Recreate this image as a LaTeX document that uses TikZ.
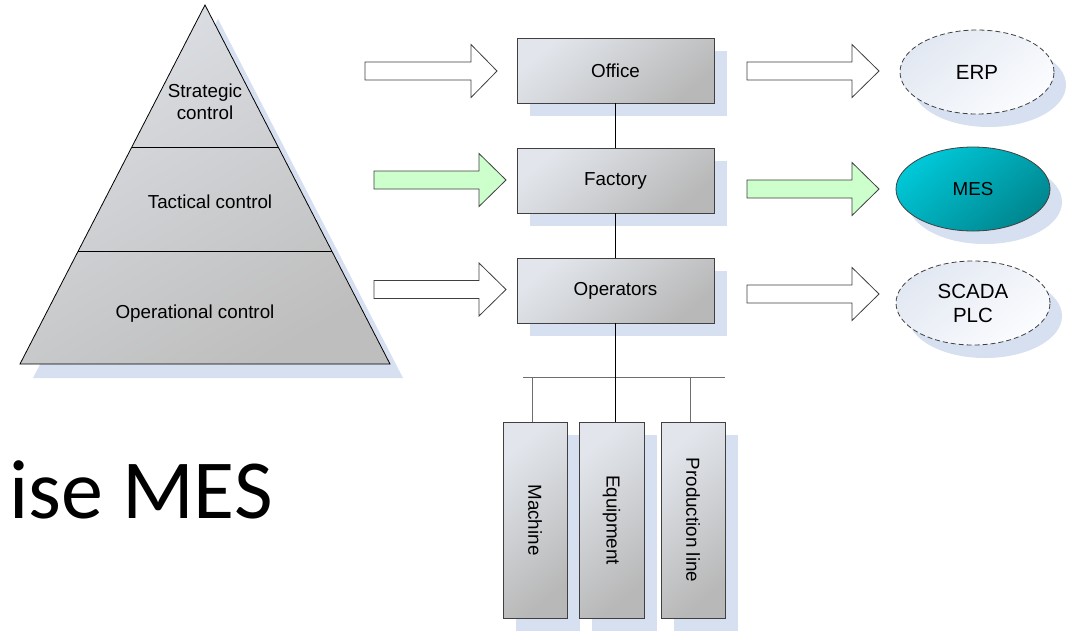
\documentclass[tikz,border=0pt]{standalone}
\usepackage{fontspec}
\setmainfont{Liberation Sans}
\newfontfamily\slidefont{Carlito}
\usetikzlibrary{shapes.geometric,shadows}

\definecolor{shadowblue}{HTML}{D6E0F0}
\definecolor{boxlight}{HTML}{E2E6EC}
\definecolor{boxdark}{HTML}{B8B8B8}
\definecolor{pyrlight}{HTML}{DCDFE4}
\definecolor{pyrdark}{HTML}{BEBEBE}
\definecolor{mesteal}{HTML}{00C8D8}
\definecolor{mesdark}{HTML}{00868F}
\definecolor{palelight}{HTML}{E2E8F2}
\definecolor{palewhite}{HTML}{FBFCFE}
\definecolor{arrowgreen}{HTML}{CCFFCC}
\definecolor{linegray}{HTML}{404040}
\definecolor{busgray}{HTML}{6E6E6E}

\tikzset{
  lbl/.style={font=\fontsize{18.8}{22}\selectfont, align=center},
  unitbox/.style={draw=linegray, line width=0.8pt, inner sep=0pt,
    top color=boxlight, bottom color=boxdark, shading angle=40,
    general shadow={fill=shadowblue, shadow xshift=13pt, shadow yshift=-13pt},
    lbl},
  sysnode/.style={ellipse, draw=linegray, line width=0.8pt, inner sep=0pt,
    minimum width=154pt, minimum height=84pt,
    general shadow={fill=shadowblue, shadow xshift=12pt, shadow yshift=-13pt},
    lbl},
  paleellipse/.style={sysnode, dash pattern=on 5pt off 3pt,
    top color=palelight, bottom color=palewhite, shading angle=40},
  arrowline/.style={draw=linegray, line width=0.8pt, line join=miter},
  wire/.style={draw=black, line width=0.8pt},
  buswire/.style={draw=busgray, line width=1pt},
}

% block arrow: fill, tail x, tip x, centre y, head start x
\newcommand\blockarrow[5]{%
  \draw[arrowline, fill=#1] (#2,#4-9) -- (#5,#4-9) -- (#5,#4-26.5)
    -- (#3,#4) -- (#5,#4+26.5) -- (#5,#4+9) -- (#2,#4+9) -- cycle;}

\begin{document}
\begin{tikzpicture}[x=1pt, y=-1pt]
  \path[use as bounding box, fill=white] (0,0) rectangle (1073,630);

  % pyramid of control levels
  \fill[shadowblue] (218,19) -- (403,378) -- (33,378) -- cycle;
  \path[top color=pyrlight, bottom color=pyrdark, shading angle=30]
    (205,5) -- (390,364) -- (20,364) -- cycle;
  \draw[line width=0.8pt, line join=miter] (205,5) -- (390,364) -- (20,364) -- cycle;
  \draw[line width=0.8pt] (131.8,147) -- (278.2,147);
  \draw[line width=0.8pt] (78.2,251) -- (331.8,251);
  \node[lbl] (strategic) at (205,102) {Strategic\\control};
  \node[lbl] (tactical) at (210,202) {Tactical control};
  \node[lbl] (operational) at (195,314) {Operational control};

  % level boxes
  \node[unitbox, minimum width=197pt, minimum height=65pt] (office) at (615.5,70.5) {Office};
  \node[unitbox, minimum width=197pt, minimum height=65pt] (factory) at (615.5,180.5) {Factory};
  \node[unitbox, minimum width=197pt, minimum height=65pt] (operators) at (615.5,290.5) {Operators};

  % shop floor units
  \node[unitbox, minimum width=64pt, minimum height=196pt] (machine) at (535,520)
    {\rotatebox{-90}{Machine}};
  \node[unitbox, minimum width=65pt, minimum height=196pt] (equipment) at (611.5,520)
    {\rotatebox{-90}{Equipment}};
  \node[unitbox, minimum width=64pt, minimum height=196pt] (prodline) at (693,520)
    {\rotatebox{-90}{Production line}};

  % systems
  \node[paleellipse, font=\fontsize{20.5}{24}\selectfont] (erp) at (977,72) {ERP};
  \node[sysnode, top color=mesteal, bottom color=mesdark, shading angle=40] (mes) at (973,189) {MES};
  \node[paleellipse, font=\fontsize{20.5}{24}\selectfont] (scada) at (973,303) {SCADA\\PLC};

  % vertical chain and bus
  \coordinate (busL) at (523,377);
  \coordinate (busR) at (725,377);
  \coordinate (dropM) at (532,377);
  \coordinate (dropP) at (690,377);
  \draw[buswire] (busL) -- (busR);
  \draw[buswire] (dropM) -- (dropM |- machine.north);
  \draw[buswire] (dropP) -- (dropP |- prodline.north);
  \draw[wire] (office.south) -- (factory.north);
  \draw[wire] (factory.south) -- (operators.north);
  \draw[wire] (operators.south) -- (operators.south |- equipment.north);

  % block arrows
  \blockarrow{white}{365}{497}{71}{471}
  \blockarrow{arrowgreen}{374}{506}{180}{479}
  \blockarrow{white}{374}{506}{289.5}{479}
  \blockarrow{white}{747}{879}{71}{852}
  \blockarrow{arrowgreen}{747}{879}{189}{852}
  \blockarrow{white}{747}{879}{294}{852}

  % slide title fragment
  \node[anchor=base west, inner sep=0pt, font=\slidefont\fontsize{84}{92}\selectfont]
    (title) at (9,518) {ise MES};
\end{tikzpicture}
\end{document}
